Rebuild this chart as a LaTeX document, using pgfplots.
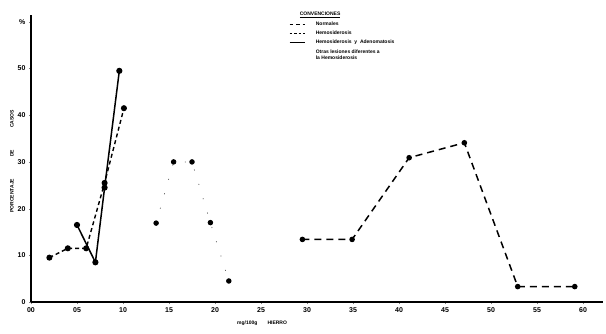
\documentclass[border=0pt]{standalone}
\usepackage{fontspec}
\setmainfont{Liberation Sans}
\usepackage{pgfplots}
\pgfplotsset{compat=1.18}
\begin{document}
\begin{tikzpicture}
\begin{axis}[
  scale only axis, width=572pt, height=287pt,
  xmin=0, xmax=6.217, ymin=0, ymax=61.46,
  axis lines*=left,
  axis line style={line width=1.2pt},
  clip=false,
  /pgf/number format/assume math mode=true,
  tick label style={font=\scriptsize\bfseries},
  xtick={0,0.5,1,1.5,2,2.5,3,3.5,4,4.5,5,5.5,6},
  xticklabels={00,05,10,15,20,25,30,35,40,45,50,55,60},
  ytick={0,10,20,30,40,50,60},
  yticklabels={0,10,20,30,40,50,\%},
  tick align=outside, major tick length=2pt,
  xlabel={mg/100g\qquad HIERRO},
  xlabel style={font=\tiny\bfseries, at={(rel axis cs:0.404,0)}, anchor=center, yshift=-21pt},
  ylabel={PORCENTAJE\hspace{22pt}DE\hspace{22pt}CASOS},
  ylabel style={font=\tiny\bfseries, at={(rel axis cs:0,0.49)}, anchor=center, yshift=19pt},
  legend style={draw=none, fill=none, font=\tiny\bfseries, at={(axis cs:2.79,62.7)}, anchor=north west, row sep=0.2pt, column sep=8pt, inner sep=1pt, legend cell align=left},
  legend image code/.code={\draw[#1] (0cm,0cm) -- (0.55cm,0cm);},
]
% legend
\addlegendimage{empty legend}
\addlegendentry{\hspace{-16pt}\underline{CONVENCIONES}}
\addlegendimage{black, line width=1.3pt, dash pattern=on 3.5pt off 3pt}
\addlegendentry{Normales}
\addlegendimage{black, line width=1.3pt, dash pattern=on 2.5pt off 2pt}
\addlegendentry{Hemosiderosis}
\addlegendimage{black, line width=1.3pt}
\addlegendentry{Hemosiderosis\ \ y\ \ Adenomatosis}
\addlegendimage{white, line width=0pt}
\addlegendentry{\shortstack[l]{Otras lesiones diferentes a\\la Hemosiderosis}}

% Normales (long dash)
\addplot[forget plot, black, line width=1.5pt, dash pattern=on 7pt off 5pt, mark=*, mark size=2pt, mark options={solid}]
coordinates {(2.95,13.4) (3.49,13.4) (4.11,30.9) (4.71,34.1) (5.29,3.3) (5.91,3.3)};

% Hemosiderosis (short dash)
\addplot[forget plot, black, line width=1.4pt, dash pattern=on 4pt off 3pt, mark=*, mark size=2.3pt, mark options={solid}]
coordinates {(0.2,9.5) (0.4,11.5) (0.6,11.5) (0.8,25.5) (1.01,41.5)};

% Hemosiderosis y Adenomatosis (solid)
\addplot[forget plot, black, line width=1.5pt, mark=*, mark size=2.3pt]
coordinates {(0.5,16.5) (0.7,8.5) (0.8,24.5) (0.96,49.5)};

% Otras lesiones (very faint dotted)
\addplot[forget plot, black!60, line width=0.8pt, dash pattern=on 1pt off 14pt, mark=*, mark size=2.3pt, mark options={solid, black}]
coordinates {(1.36,16.9) (1.55,30) (1.75,30) (1.95,17) (2.15,4.5)};
\end{axis}
\pgfresetboundingbox
\path (-31pt,-31pt) rectangle (575pt,302pt);
\end{tikzpicture}
\end{document}
